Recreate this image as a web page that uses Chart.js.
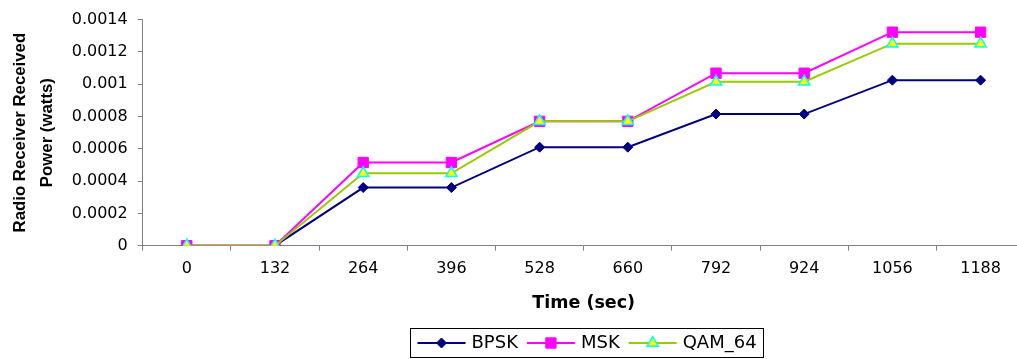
<!DOCTYPE html>
<html><head><meta charset="utf-8">
<script src="https://cdn.jsdelivr.net/npm/chart.js@4/dist/chart.umd.min.js"></script>
<style>
html,body{margin:0;padding:0;overflow:hidden;background:#fff;width:1017px;height:359px}
#wrap{width:1033px;height:359px;}
canvas{display:block}
</style>
</head><body><div id="wrap"><canvas id="c" width="1033" height="359"></canvas></div>
<script>
const categories = ['0','132','264','396','528','660','792','924','1056','1188'];
const bpsk  = [0, 0, 0.00036, 0.00036, 0.00061, 0.00061, 0.000815, 0.000815, 0.001025, 0.001025];
const msk   = [0, 0, 0.000515, 0.000515, 0.00077, 0.00077, 0.001068, 0.001068, 0.001322, 0.001322];
const qam64 = [0, 0, 0.000448, 0.000448, 0.00077, 0.00077, 0.001015, 0.001015, 0.001251, 0.001251];
const yTicks = [0, 0.0002, 0.0004, 0.0006, 0.0008, 0.001, 0.0012, 0.0014];
const seriesNames = ['BPSK', 'MSK', 'QAM_64'];

const legendPlugin = {
  id: 'boxLegend',
  afterDraw(chart) {
    const ctx = chart.ctx;
    const ds = chart.data.datasets;
    ctx.save();
    ctx.font = '18px "DejaVu Sans"';
    const lineLen = 48, gapLT = 6, gapItems = 9, padX = 7;
    const widths = ds.map(d => ctx.measureText(d.label).width);
    const total = 2 * padX + ds.length * (lineLen + gapLT) + widths.reduce((a, b) => a + b, 0) + (ds.length - 1) * gapItems;
    const cx = (chart.chartArea.left + chart.chartArea.right) / 2 + 3;
    const top = chart.height - 31, bottom = chart.height - 2;
    let x = Math.round(cx - total / 2) + 0.5;
    ctx.strokeStyle = '#000'; ctx.lineWidth = 1;
    ctx.strokeRect(x, top + 0.5, Math.round(total), bottom - top);
    const cy = (top + bottom) / 2 + 0.5;
    x += padX;
    ds.forEach((d, i) => {
      ctx.strokeStyle = d.borderColor; ctx.lineWidth = d.borderWidth;
      ctx.beginPath(); ctx.moveTo(x, cy); ctx.lineTo(x + lineLen, cy); ctx.stroke();
      ctx.fillStyle = d.pointBackgroundColor; ctx.strokeStyle = d.pointBorderColor; ctx.lineWidth = d.pointBorderWidth;
      Chart.helpers.drawPoint(ctx, {pointStyle: d.pointStyle, radius: d.pointRadius, borderWidth: d.pointBorderWidth, rotation: 0}, x + lineLen / 2, cy);
      x += lineLen + gapLT;
      ctx.fillStyle = '#000'; ctx.textBaseline = 'middle'; ctx.textAlign = 'left';
      ctx.fillText(d.label, x, cy);
      x += widths[i] + gapItems;
    });
    ctx.restore();
  }
};

new Chart(document.getElementById('c'), {
  type: 'line',
  data: {
    labels: categories,
    datasets: [
      {label: seriesNames[0], data: bpsk, borderColor: '#000080', borderWidth: 2, pointStyle: 'rectRot', pointRadius: 5,
       pointBackgroundColor: '#000080', pointBorderColor: '#000080', pointBorderWidth: 1, tension: 0, order: 2},
      {label: seriesNames[1], data: msk, borderColor: '#FF00FF', borderWidth: 2, pointStyle: 'rect', pointRadius: 7.3,
       pointBackgroundColor: '#FF00FF', pointBorderColor: '#FF00FF', pointBorderWidth: 1, tension: 0, order: 1},
      {label: seriesNames[2], data: qam64, borderColor: '#99CC00', borderWidth: 2, pointStyle: 'triangle', pointRadius: 6.5,
       pointBackgroundColor: '#FFFF00', pointBorderColor: '#00FFFF', pointBorderWidth: 1.5, tension: 0, order: 0}
    ]
  },
  options: {
    responsive: false,
    animation: false,
    layout: {padding: {top: 15.7, bottom: 37, left: 0, right: 0}},
    plugins: {legend: {display: false}, tooltip: {enabled: false}},
    scales: {
      x: {
        type: 'category', offset: true,
        grid: {display: true, drawOnChartArea: false, offset: true, tickLength: 5, color: '#808080'},
        border: {color: '#808080'},
        ticks: {font: {family: 'DejaVu Sans', size: 16}, color: '#000', padding: 9, maxRotation: 0, autoSkip: false},
        title: {display: true, text: 'Time (sec)', font: {family: 'DejaVu Sans', size: 17.5, weight: 'bold'}, color: '#000', padding: {top: 0, bottom: 8}},
        afterFit(s) { s.height = 76.3; }
      },
      y: {
        min: 0, max: 0.0014,
        afterBuildTicks(s) { s.ticks = yTicks.map(v => ({value: v})); },
        grid: {drawOnChartArea: false, tickLength: 5, color: '#808080'},
        border: {color: '#808080'},
        ticks: {font: {family: 'DejaVu Sans', size: 16}, color: '#000', padding: 10, callback: v => String(v)},
        title: {display: true, text: ['Radio Receiver Received', 'Power (watts)'],
                font: {family: 'Liberation Sans', size: 16.8, weight: 'bold', lineHeight: 1.59}, color: '#000', padding: {top: 7, bottom: 0}},
        afterFit(s) { s.width = 142.7; }
      }
    }
  },
  plugins: [legendPlugin]
});
</script>
</body></html>
